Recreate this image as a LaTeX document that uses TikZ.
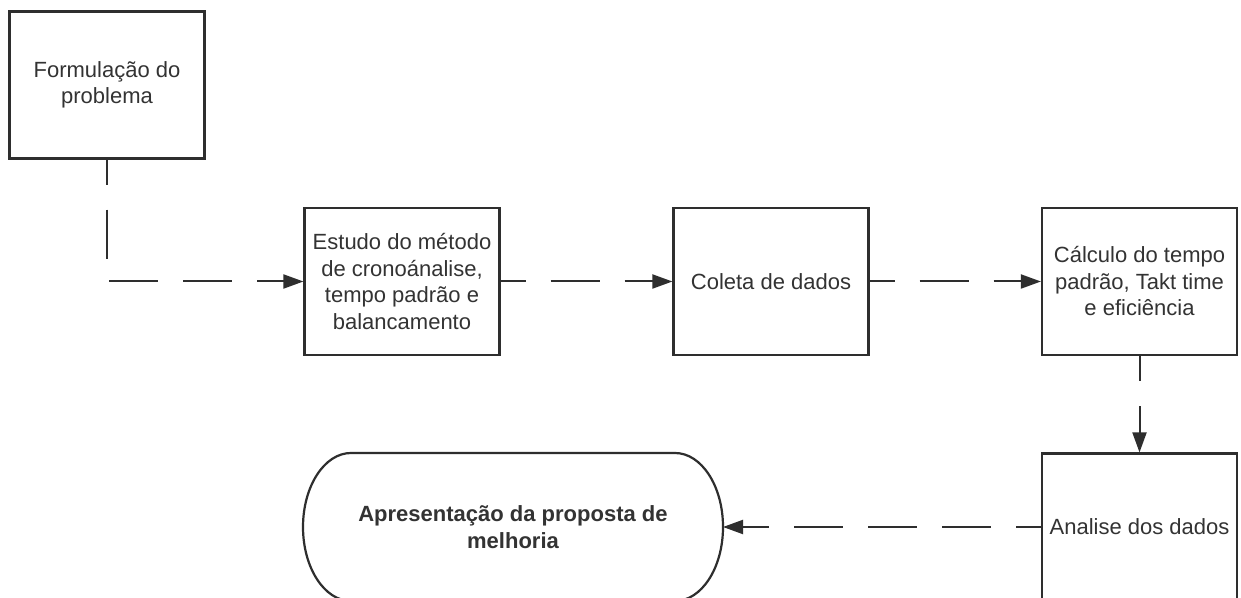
\documentclass[tikz,border=0pt]{standalone}
\usepackage{fontspec}
\setmainfont{Liberation Sans}
\usetikzlibrary{arrows.meta}
\definecolor{ink}{HTML}{2E2E2E}
\definecolor{txt}{HTML}{333333}
\begin{document}
\begin{tikzpicture}[x=1pt,y=1pt,
  procbox/.style={draw=ink, line width=2.2pt, minimum width=195pt, minimum height=147pt, align=center, text=txt, font=\fontsize{22}{26.5}\selectfont, inner sep=0pt},
  flow/.style={draw=ink, line width=2pt, dash pattern=on 49pt off 25pt, dash phase=24pt, -{Triangle[length=20pt,width=14pt]}}
]
\path[use as bounding box, clip] (0,0) rectangle (1241,597);
\fill[white] (0,0) rectangle (1241,597);
\node[procbox] (form) at (107,512) {Formulação do\\problema};
\node[procbox] (estudo) at (402,315.5) {Estudo do método\\de cronoánalise,\\tempo padrão e\\balancamento};
\node[procbox] (coleta) at (771,315.5) {Coleta de dados};
\node[procbox] (calc) at (1139.5,315.5) {Cálculo do tempo\\padrão, Takt time\\e eficiência};
\node[procbox] (anal) at (1139.5,70) {Analise dos dados};
\node[font=\bfseries\fontsize{22}{26.5}\selectfont, text=txt, align=center, minimum width=420pt, minimum height=148pt, inner sep=0pt, outer sep=0pt] (apres) at (513,70) {Apresentação da proposta de\\melhoria};
\draw[ink, line width=2.2pt] ([xshift=48pt]apres.north west) -- ([xshift=-48pt]apres.north east) arc[start angle=90, end angle=-90, x radius=48pt, y radius=74pt] -- ([xshift=48pt]apres.south west) arc[start angle=270, end angle=90, x radius=48pt, y radius=74pt] -- cycle;
\draw[flow] (form.south) |- (estudo.west);
\draw[flow] (estudo.east) -- (coleta.west);
\draw[flow] (coleta.east) -- (calc.west);
\draw[flow] (calc.south) -- (anal.north);
\draw[flow] (anal.west) -- (apres.east);
\end{tikzpicture}
\end{document}
